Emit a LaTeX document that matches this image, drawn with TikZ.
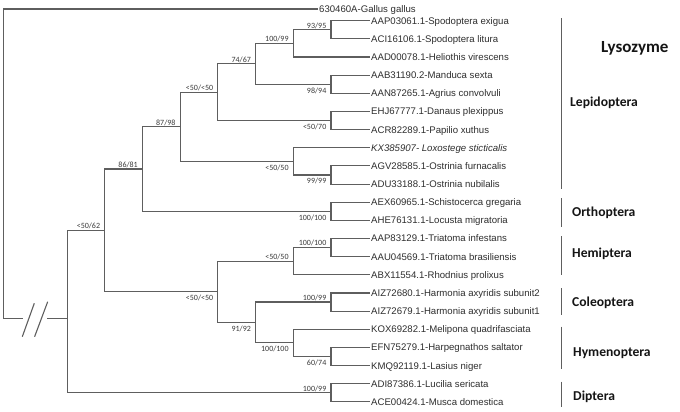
\documentclass[tikz,border=0pt]{standalone}
\usepackage{fontspec}
\setmainfont{Liberation Sans}
\newfontfamily\calib{Carlito}
\definecolor{treegray}{HTML}{5E5E5E}
\definecolor{leafcol}{HTML}{2E2E2E}
\definecolor{bscol}{HTML}{3A3A3A}
\definecolor{grpcol}{HTML}{151515}
\begin{document}
\begin{tikzpicture}[x=1pt,y=-1pt,
  br/.style={draw=treegray, line width=1.1pt, line cap=rect},
  barline/.style={draw=treegray, line width=1pt},
  leaf/.style={anchor=west, inner xsep=2pt, inner ysep=0pt, text height=6.9pt, text depth=0pt,
    font=\fontsize{9.6}{11}\selectfont, text=leafcol},
  bsa/.style={anchor=south east, inner sep=0pt, text height=5.2pt, text depth=0pt,
    font=\calib\fontsize{8}{9}\selectfont, text=bscol, xshift=-4.5pt, yshift=1.5pt},
  bsb/.style={anchor=north east, inner sep=0pt, text height=5.2pt, text depth=0pt,
    font=\calib\fontsize{8}{9}\selectfont, text=bscol, xshift=-4.5pt, yshift=-3.5pt},
  grp/.style={anchor=west, inner sep=0pt, text height=8.8pt, text depth=0pt,
    font=\calib\bfseries\fontsize{13.6}{15}\selectfont, text=grpcol},
  ]
\useasboundingbox (0,0) rectangle (680,412);
\fill[white] (0,0) rectangle (680,412);

% leaves
\node[leaf] (g0) at (317,9) {630460A-Gallus gallus};
\node[leaf] (l1) at (369,20.7) {AAP03061.1-Spodoptera exigua};
\node[leaf] (l2) at (369,38.85) {ACI16106.1-Spodoptera litura};
\node[leaf] (l3) at (369,57.0) {AAD00078.1-Heliothis virescens};
\node[leaf] (l4) at (369,75.15) {AAB31190.2-Manduca sexta};
\node[leaf] (l5) at (369,93.3) {AAN87265.1-Agrius convolvuli};
\node[leaf] (l6) at (369,111.45) {EHJ67777.1-Danaus plexippus};
\node[leaf] (l7) at (369,129.6) {ACR82289.1-Papilio xuthus};
\node[leaf] (l8) at (369,147.75) {\itshape KX385907- Loxostege sticticalis};
\node[leaf] (l9) at (369,165.9) {AGV28585.1-Ostrinia furnacalis};
\node[leaf] (l10) at (369,184.05) {ADU33188.1-Ostrinia nubilalis};
\node[leaf] (l11) at (369,202.2) {AEX60965.1-Schistocerca gregaria};
\node[leaf] (l12) at (369,220.35) {AHE76131.1-Locusta migratoria};
\node[leaf] (l13) at (369,238.5) {AAP83129.1-Triatoma infestans};
\node[leaf] (l14) at (369,256.65) {AAU04569.1-Triatoma brasiliensis};
\node[leaf] (l15) at (369,274.8) {ABX11554.1-Rhodnius prolixus};
\node[leaf] (l16) at (369,292.95) {AIZ72680.1-Harmonia axyridis subunit2};
\node[leaf] (l17) at (369,311.1) {AIZ72679.1-Harmonia axyridis subunit1};
\node[leaf] (l18) at (369,329.25) {KOX69282.1-Melipona quadrifasciata};
\node[leaf] (l19) at (369,347.4) {EFN75279.1-Harpegnathos saltator};
\node[leaf] (l20) at (369,365.55) {KMQ92119.1-Lasius niger};
\node[leaf] (l21) at (369,383.7) {ADI87386.1-Lucilia sericata};
\node[leaf] (l22) at (369,401.85) {ACE00424.1-Musca domestica};

% internal nodes
\coordinate (A) at (331,29.78);
\coordinate (B) at (293.3,43.39);
\coordinate (C) at (331,84.23);
\coordinate (D) at (255.6,63.81);
\coordinate (E) at (331,120.53);
\coordinate (F) at (217.9,92.17);
\coordinate (H) at (331,174.98);
\coordinate (G) at (293.3,161.36);
\coordinate (I) at (180.2,126.77);
\coordinate (J) at (331,211.28);
\coordinate (K) at (142.5,169.0);
\coordinate (O) at (331,247.58);
\coordinate (N) at (293.3,261.19);
\coordinate (Q) at (331,302.03);
\coordinate (S) at (331,356.48);
\coordinate (R) at (293.3,342.86);
\coordinate (P) at (255.6,322.45);
\coordinate (M) at (217.9,291.82);
\coordinate (L) at (104.8,230.41);
\coordinate (U) at (331,392.78);
\coordinate (T) at (67.1,318.3);
\coordinate (rootB) at (3.5,318.3);
\coordinate (brkL) at (22.7,318.3);
\coordinate (brkR) at (47.7,318.3);

% branches
\draw[br] (A) |- (l1.west); \draw[br] (A) |- (l2.west);
\draw[br] (B) |- (A); \draw[br] (B) |- (l3.west);
\draw[br] (C) |- (l4.west); \draw[br] (C) |- (l5.west);
\draw[br] (D) |- (B); \draw[br] (D) |- (C);
\draw[br] (E) |- (l6.west); \draw[br] (E) |- (l7.west);
\draw[br] (F) |- (D); \draw[br] (F) |- (E);
\draw[br] (H) |- (l9.west); \draw[br] (H) |- (l10.west);
\draw[br] (G) |- (l8.west); \draw[br] (G) |- (H);
\draw[br] (I) |- (F); \draw[br] (I) |- (G);
\draw[br] (J) |- (l11.west); \draw[br] (J) |- (l12.west);
\draw[br] (K) |- (I); \draw[br] (K) |- (J);
\draw[br] (O) |- (l13.west); \draw[br] (O) |- (l14.west);
\draw[br] (N) |- (O); \draw[br] (N) |- (l15.west);
\draw[br] (Q) |- (l16.west); \draw[br] (Q) |- (l17.west);
\draw[br] (S) |- (l19.west); \draw[br] (S) |- (l20.west);
\draw[br] (R) |- (l18.west); \draw[br] (R) |- (S);
\draw[br] (P) |- (Q); \draw[br] (P) |- (R);
\draw[br] (M) |- (N); \draw[br] (M) |- (P);
\draw[br] (L) |- (K); \draw[br] (L) |- (M);
\draw[br] (U) |- (l21.west); \draw[br] (U) |- (l22.west);
\draw[br] (T) |- (L); \draw[br] (T) |- (U);
\draw[br] (brkR) -- (T);
\draw[br] (brkL) -- (rootB) |- (g0.west);
% break marks
\draw[treegray, line width=1.1pt] (22.3,336.7) -- (34.3,303.3);
\draw[treegray, line width=1.1pt] (34.6,336.7) -- (47.7,301.7);

% bootstrap values
\node[bsa] at (A) {93/95};
\node[bsa] at (B) {100/99};
\node[bsb] at (C) {98/94};
\node[bsa] at (D) {74/67};
\node[bsb] at (E) {<50/70};
\node[bsa] at (F) {<50/<50};
\node[bsb] at (G) {<50/50};
\node[bsb] at (H) {99/99};
\node[bsa] at (I) {87/98};
\node[bsb] at (J) {100/100};
\node[bsa] at (K) {86/81};
\node[bsa] at (O) {100/100};
\node[bsa] at (N) {<50/50};
\node[bsa] at (Q) {100/99};
\node[bsb] at (R) {100/100};
\node[bsb] at (S) {60/74};
\node[bsb] at (P) {91/92};
\node[bsb] at (M) {<50/<50};
\node[bsa] at (L) {<50/62};
\node[bsa] at (U) {100/99};

% group bars
\coordinate (lepT) at (561.7,18.3); \coordinate (lepB) at (561.7,189.3);
\coordinate (ortT) at (561.7,198); \coordinate (ortB) at (561.7,226.7);
\coordinate (hemT) at (561.7,236); \coordinate (hemB) at (561.7,275);
\coordinate (colT) at (561.7,288.3); \coordinate (colB) at (561.7,315);
\coordinate (hymT) at (561.7,326.7); \coordinate (hymB) at (561.7,369.3);
\coordinate (dipT) at (561.7,381.7); \coordinate (dipB) at (561.7,407);
\draw[barline] (lepT) -- (lepB);
\draw[barline] (ortT) -- (ortB);
\draw[barline] (hemT) -- (hemB);
\draw[barline] (colT) -- (colB);
\draw[barline] (hymT) -- (hymB);
\draw[barline] (dipT) -- (dipB);

% group labels
\node[grp, font=\calib\bfseries\fontsize{17}{19}\selectfont, text height=10.9pt] (lys) at (601,46.7) {Lysozyme};
\node[grp] (lep) at (570,102.3) {Lepidoptera};
\node[grp] (ort) at (572,211.7) {Orthoptera};
\node[grp] (hem) at (572,252.7) {Hemiptera};
\node[grp] (col) at (572,302.3) {Coleoptera};
\node[grp] (hym) at (573,351.7) {Hymenoptera};
\node[grp] (dip) at (573,396) {Diptera};
\end{tikzpicture}
\end{document}
